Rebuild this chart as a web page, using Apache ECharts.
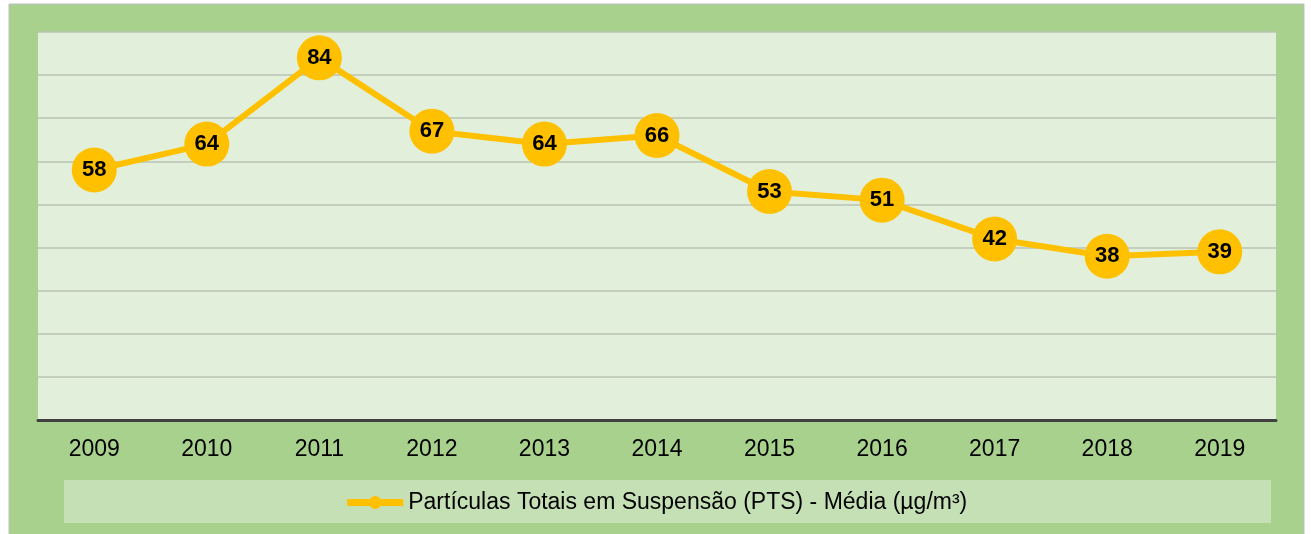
<!DOCTYPE html>
<html>
<head>
<meta charset="utf-8">
<script src="https://cdn.jsdelivr.net/npm/echarts@6/dist/echarts.min.js"></script>
<style>
  html, body { margin: 0; padding: 0; background: #fff; }
  #chart { width: 1311px; height: 534px; }
</style>
</head>
<body>
<div id="chart"></div>
<script>
// dados do gráfico
const years = ['2009', '2010', '2011', '2012', '2013', '2014', '2015', '2016', '2017', '2018', '2019'];
const ptsMedia = [58, 64, 84, 67, 64, 66, 53, 51, 42, 38, 39];
const seriesName = 'Partículas Totais em Suspensão (PTS) - Média (µg/m³)';

const chart = echarts.init(document.getElementById('chart'));

const option = {
  animation: false,
  textStyle: { fontFamily: 'Liberation Sans, Arial, sans-serif' },
  graphic: [
    {
      type: 'rect',
      z: -10,
      shape: { x: 9, y: 4, width: 1295, height: 534 },
      style: { fill: '#a9d18e', stroke: '#bfbfbf', lineWidth: 1 }
    },
    {
      type: 'rect',
      z: -9,
      shape: { x: 64, y: 480, width: 1207, height: 43 },
      style: { fill: '#c5e0b4' }
    }
  ],
  grid: {
    left: 38,
    right: 35,
    top: 32,
    bottom: 114,
    show: true,
    backgroundColor: '#e2efda',
    borderWidth: 0
  },
  legend: {
    data: [seriesName],
    left: 'center',
    top: 486,
    itemWidth: 56,
    itemHeight: 16,
    itemGap: 4,
    lineStyle: { width: 7 },
    textStyle: { color: '#000', fontSize: 23, fontFamily: 'Liberation Sans, Arial, sans-serif' }
  },
  xAxis: {
    type: 'category',
    data: years,
    boundaryGap: true,
    axisLine: { lineStyle: { color: '#404040', width: 3 } },
    axisTick: { show: false },
    axisLabel: { color: '#000', fontSize: 23, margin: 18 }
  },
  yAxis: {
    type: 'value',
    min: 0,
    max: 90,
    interval: 10,
    axisLabel: { show: false },
    axisLine: { show: false },
    axisTick: { show: false },
    splitLine: { lineStyle: { color: '#b9c3b2', width: 1.5 } }
  },
  series: [{
    name: seriesName,
    type: 'line',
    data: ptsMedia,
    symbol: 'circle',
    symbolSize: 45,
    lineStyle: { color: '#ffc000', width: 6 },
    itemStyle: { color: '#ffc000' },
    label: {
      show: true,
      position: 'inside',
      color: '#000',
      fontSize: 22,
      fontWeight: 'bold'
    }
  }]
};

chart.setOption(option);
</script>
</body>
</html>
